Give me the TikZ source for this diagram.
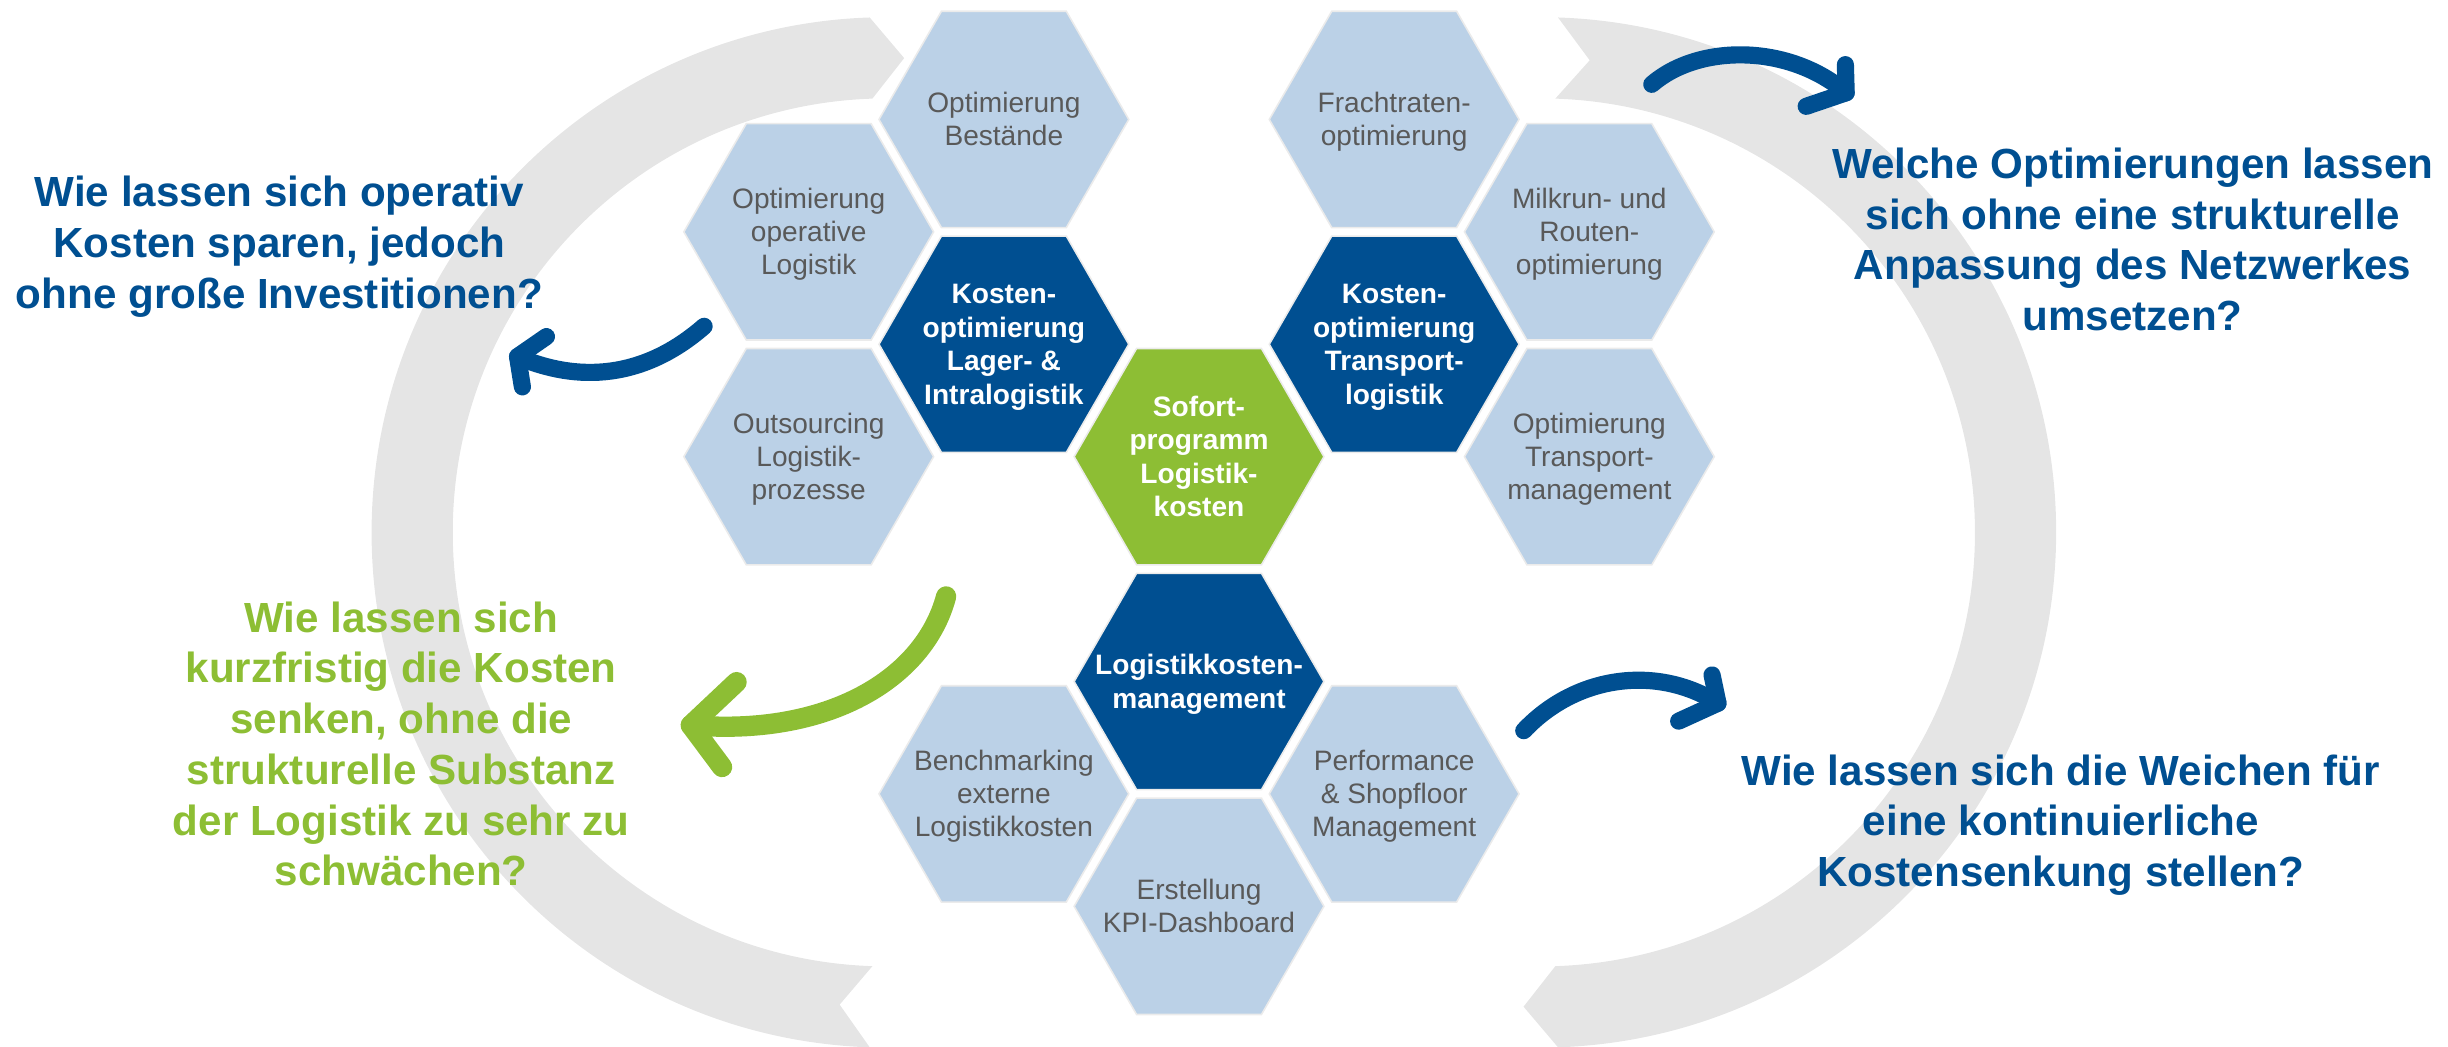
\documentclass[tikz,border=0pt]{standalone}
\usepackage{fontspec}
\setmainfont{Liberation Sans}
\definecolor{hexlight}{RGB}{187,209,231}
\definecolor{hexdark}{RGB}{0,79,145}
\definecolor{hexgreen}{RGB}{141,190,52}
\definecolor{arcgrey}{RGB}{229,229,229}
\definecolor{hextext}{RGB}{89,89,89}
\definecolor{qblue}{RGB}{0,79,145}
\definecolor{qgreen}{RGB}{141,190,52}
\newcommand\hexshape[3]{%
  \path[#3] (#1+80,#2) -- (#1+40,#2+69.28) -- (#1-40,#2+69.28) -- (#1-80,#2) -- (#1-40,#2-69.28) -- (#1+40,#2-69.28) -- cycle;}
\begin{document}
\begin{tikzpicture}[x=1pt,y=-1pt,
  hl/.style={fill=hexlight,draw=black!8,line width=1},
  hd/.style={fill=hexdark,draw=black!8,line width=1},
  hg/.style={fill=hexgreen,draw=black!8,line width=1},
  lt/.style={align=center,text=hextext,inner sep=0,yshift=-2pt,font=\fontsize{18}{21}\selectfont},
  bt/.style={align=center,text=white,inner sep=0,yshift=-2pt,font=\bfseries\fontsize{18}{21.5}\selectfont},
  qb/.style={align=center,text=qblue,inner sep=0,font=\bfseries\fontsize{27}{32.5}\selectfont},
  qg/.style={align=center,text=qgreen,inner sep=0,font=\bfseries\fontsize{27}{32.5}\selectfont},
  bline/.style={draw=qblue,line width=11,line cap=round,line join=round},
  gline/.style={draw=qgreen,line width=13,line cap=round,line join=round}]
\useasboundingbox (0,0) rectangle (1568,670);
% grey cycle arcs
\fill[arcgrey] ([shift={(568,341)}]91.9:330) arc[start angle=91.9,end angle=268.1,radius=330]
  -- ([shift={(568,341)}]272.1:304) -- ([shift={(568,341)}]268.1:278)
  arc[start angle=268.1,end angle=91.9,radius=278] -- ([shift={(568,341)}]95.7:304) -- cycle;
\fill[arcgrey] ([shift={(987,341)}]-88.1:330) arc[start angle=-88.1,end angle=88.1,radius=330]
  -- ([shift={(987,341)}]92.1:304) -- ([shift={(987,341)}]88.1:278)
  arc[start angle=88.1,end angle=-88.1,radius=278] -- ([shift={(987,341)}]-84.1:304) -- cycle;
% hexagons
\hexshape{643}{76.5}{hl}
\hexshape{893}{76.5}{hl}
\hexshape{518}{148.5}{hl}
\hexshape{1018}{148.5}{hl}
\hexshape{643}{220.5}{hd}
\hexshape{893}{220.5}{hd}
\hexshape{518}{292.5}{hl}
\hexshape{768}{292.5}{hg}
\hexshape{1018}{292.5}{hl}
\hexshape{768}{436.5}{hd}
\hexshape{643}{508.5}{hl}
\hexshape{893}{508.5}{hl}
\hexshape{768}{580.5}{hl}
% hexagon texts
\node[lt] (bestand) at (643,76.5) {\strut Optimierung\\\strut Bestände};
\node[lt] (fracht) at (893,76.5) {\strut Frachtraten-\\\strut optimierung};
\node[lt] (oplog) at (518,148.5) {\strut Optimierung\\\strut operative\\\strut Logistik};
\node[lt] (milk) at (1018,148.5) {\strut Milkrun- und\\\strut Routen-\\\strut optimierung};
\node[bt] (lager) at (643,220.5) {\strut Kosten-\\\strut optimierung\\\strut Lager- \&\\\strut Intralogistik};
\node[bt] (transp) at (893,220.5) {\strut Kosten-\\\strut optimierung\\\strut Transport-\\\strut logistik};
\node[lt] (outs) at (518,292.5) {\strut Outsourcing\\\strut Logistik-\\\strut prozesse};
\node[bt] (sofort) at (768,292.5) {\strut Sofort-\\\strut programm\\\strut Logistik-\\\strut kosten};
\node[lt] (tmgmt) at (1018,292.5) {\strut Optimierung\\\strut Transport-\\\strut management};
\node[bt] (lkm) at (768,436.5) {\strut Logistikkosten-\\\strut management};
\node[lt] (bench) at (643,508.5) {\strut Benchmarking\\\strut externe\\\strut Logistikkosten};
\node[lt] (perf) at (893,508.5) {\strut Performance\\\strut \& Shopfloor\\\strut Management};
\node[lt] (kpi) at (768,580.5) {\strut Erstellung\\\strut KPI-Dashboard};
% curved arrows
\coordinate (a1s) at (451,209);
\coordinate (a1t) at (331.5,228.4);
\coordinate (a1w1) at (350,215.6);
\coordinate (a1w2) at (334.6,247.8);
\draw[bline] (a1s) .. controls (412,243) and (370,245) .. (a1t);
\draw[bline] (a1w1) -- (a1t) -- (a1w2);
\coordinate (a2s) at (1058,54);
\coordinate (a2t) at (1182.5,59.4);
\coordinate (a2w1) at (1182,41.4);
\coordinate (a2w2) at (1156.9,68.1);
\draw[bline] (a2s) .. controls (1088,28) and (1146,28) .. (a2t);
\draw[bline] (a2w1) -- (a2t) -- (a2w2);
\coordinate (a3s) at (976,468);
\coordinate (a3t) at (1100.4,450.4);
\coordinate (a3w1) at (1096.6,432.3);
\coordinate (a3w2) at (1075.2,461.9);
\draw[bline] (a3s) .. controls (1010,432) and (1062,426) .. (a3t);
\draw[bline] (a3w1) -- (a3t) -- (a3w2);
\coordinate (a4s) at (606,382);
\coordinate (a4t) at (442.5,464.5);
\coordinate (a4w1) at (471.8,436.9);
\coordinate (a4w2) at (462.5,491.3);
\draw[gline] (a4s) .. controls (592,435) and (530,472) .. (a4t);
\draw[gline] (a4w1) -- (a4t) -- (a4w2);
% questions
\node[qb] (q1) at (179,158.5) {\strut Wie lassen sich operativ\\\strut Kosten sparen, jedoch\\\strut ohne große Investitionen?};
\node[qb] (q2) at (1366,156.5) {\strut Welche Optimierungen lassen\\\strut sich ohne eine strukturelle\\\strut Anpassung des Netzwerkes\\\strut umsetzen?};
\node[qg] (q3) at (257,479.6) {\strut Wie lassen sich\\\strut kurzfristig die Kosten\\\strut senken, ohne die\\\strut strukturelle Substanz\\\strut der Logistik zu sehr zu\\\strut schwächen?};
\node[qb] (q4) at (1320,528.9) {\strut Wie lassen sich die Weichen für\\\strut eine kontinuierliche\\\strut Kostensenkung stellen?};
\end{tikzpicture}
\end{document}
